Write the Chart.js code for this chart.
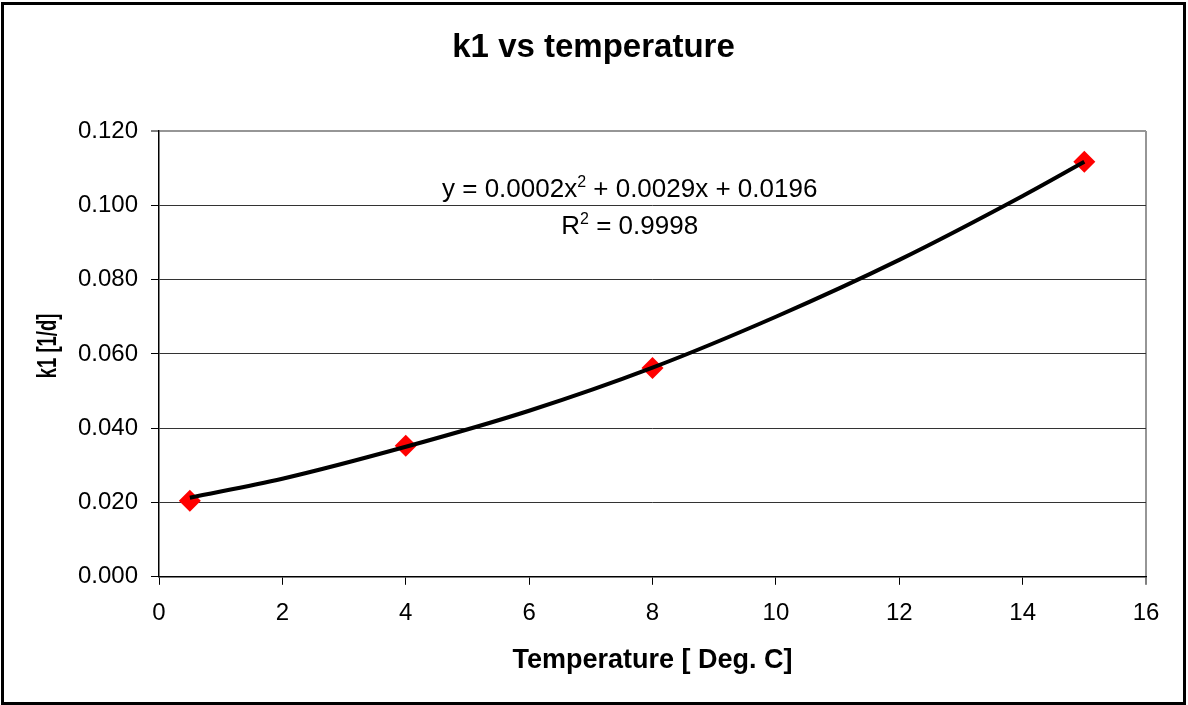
<!DOCTYPE html>
<html>
<head>
<meta charset="utf-8">
<title>k1 vs temperature</title>
<script src="https://cdn.jsdelivr.net/npm/chart.js@4.4.1/dist/chart.umd.min.js"></script>
<style>
  html, body { margin: 0; padding: 0; background: #fff; }
  #frame {
    position: absolute; left: 1px; top: 2px;
    width: 1185px; height: 703px;
    border: 3px solid #000; box-sizing: border-box;
  }
  #chart { display: block; }
</style>
</head>
<body>
<div id="frame"><canvas id="chart" width="1179" height="697"></canvas></div>
<script>
'use strict';

// ── Data ────────────────────────────────────────────────────────────────────
const tempC      = [0.5, 4, 8, 15];                 // measured points, deg C
const k1Measured = [0.0205, 0.0353, 0.0562, 0.1117]; // 1/d

// polynomial trendline as drawn in the picture
const trendTemp = [0.5, 2, 4, 6, 8, 10, 12, 14, 15];
const trendK1   = [0.0213, 0.0264, 0.0350, 0.0447, 0.0563, 0.0700, 0.0853, 0.1025, 0.1117];

const X_MIN = 0,  X_MAX = 16,   X_STEP = 2;
const Y_MIN = 0,  Y_MAX = 0.12, Y_STEP = 0.02;

const eqParts = ['y = 0.0002x', '2', ' + 0.0029x + 0.0196'];
const r2Parts = ['R', '2', ' = 0.9998'];
const EQ_AT = { x: 7.63, y: 0.1022 };   // baseline centre of equation
const R2_AT = { x: 7.63, y: 0.0922 };

const FONT = '"Liberation Sans", Arial, sans-serif';
Chart.defaults.font.family = FONT;
Chart.defaults.color = '#000';

// ── Helpers ─────────────────────────────────────────────────────────────────
const near = (a, b) => Math.abs(a - b) < 1e-9;

/** draw "base sup rest" centred on cx, baseline at by */
function drawSup(ctx, parts, cx, by) {
  const big = `26px ${FONT}`, small = `16px ${FONT}`;
  ctx.font = big;   const w0 = ctx.measureText(parts[0]).width;
  const w2 = ctx.measureText(parts[2]).width;
  ctx.font = small; const w1 = ctx.measureText(parts[1]).width;
  let x = cx - (w0 + w1 + w2) / 2;
  ctx.textAlign = 'left';
  ctx.textBaseline = 'alphabetic';
  ctx.font = big;   ctx.fillText(parts[0], x, by); x += w0;
  ctx.font = small; ctx.fillText(parts[1], x, by - 10); x += w1;
  ctx.font = big;   ctx.fillText(parts[2], x, by);
}

const extraText = {
  id: 'extraText',
  afterDraw(chart) {
    const { ctx, scales: { x, y } } = chart;
    ctx.save();
    ctx.fillStyle = '#000';
    drawSup(ctx, eqParts, x.getPixelForValue(EQ_AT.x), y.getPixelForValue(EQ_AT.y));
    drawSup(ctx, r2Parts, x.getPixelForValue(R2_AT.x), y.getPixelForValue(R2_AT.y));

    // y axis title, squeezed along its length like the original
    ctx.translate(52, (chart.chartArea.top + chart.chartArea.bottom) / 2 - 8);
    ctx.rotate(-Math.PI / 2);
    ctx.scale(0.66, 1);
    ctx.font = `bold 28px ${FONT}`;
    ctx.textAlign = 'center';
    ctx.textBaseline = 'alphabetic';
    ctx.fillText('k1 [1/d]', 0, 0);
    ctx.restore();
  },
};

// ── Chart ───────────────────────────────────────────────────────────────────
new Chart(document.getElementById('chart'), {
  type: 'scatter',
  data: {
    datasets: [
      {
        label: 'Poly. trend',
        type: 'line',
        data: trendTemp.map((t, i) => ({ x: t, y: trendK1[i] })),
        borderColor: '#000',
        borderWidth: 4,
        pointRadius: 0,
        tension: 0.4,
        cubicInterpolationMode: 'monotone',
        order: 1,
      },
      {
        label: 'k1',
        data: tempC.map((t, i) => ({ x: t, y: k1Measured[i] })),
        pointStyle: 'rectRot',
        pointRadius: 11,
        backgroundColor: '#ff0000',
        borderColor: '#ff0000',
        borderWidth: 0,
        order: 2,
      },
    ],
  },
  options: {
    responsive: false,
    animation: false,
    layout: { padding: 0 },
    plugins: {
      legend: { display: false },
      tooltip: { enabled: false },
      title: {
        display: true,
        text: 'k1 vs temperature',
        color: '#000',
        font: { size: 33, weight: 'bold' },
        padding: { top: 23, bottom: 63.4 },
      },
    },
    scales: {
      x: {
        type: 'linear',
        min: X_MIN, max: X_MAX,
        ticks: { stepSize: X_STEP, color: '#000', font: { size: 24 }, padding: 14, maxRotation: 0 },
        grid: {
          drawOnChartArea: true,
          color: c => (c.tick && near(c.tick.value, X_MAX)) ? '#969696' : 'rgba(0,0,0,0)',
          lineWidth: c => (c.tick && near(c.tick.value, X_MAX)) ? 2 : 1,
          tickColor: '#000', tickWidth: 1, tickLength: 8,
        },
        border: { display: true, color: '#000', width: 1.5 },
        title: {
          display: true,
          text: 'Temperature [ Deg. C]',
          color: '#000',
          font: { size: 27, weight: 'bold' },
          padding: { top: 3, bottom: 25 },
        },
      },
      y: {
        min: Y_MIN, max: Y_MAX,
        afterFit: s => { s.width = 155; },
        ticks: {
          stepSize: Y_STEP, color: '#000', font: { size: 24 }, padding: 13,
          callback: v => v.toFixed(3),
        },
        grid: {
          color: c => (c.tick && near(c.tick.value, Y_MAX)) ? '#969696' : '#333',
          lineWidth: c => (c.tick && near(c.tick.value, Y_MAX)) ? 2 : 1,
          tickColor: '#000', tickWidth: 1, tickLength: 8,
        },
        border: { display: true, color: '#000', width: 1.5 },
      },
      // empty right-hand strip so the plot ends where the original does
      yRight: {
        position: 'right',
        afterFit: s => { s.width = 37; },
        ticks: { display: false },
        grid: { display: false },
        border: { display: false },
      },
    },
  },
  plugins: [extraText],
});
</script>
</body>
</html>
